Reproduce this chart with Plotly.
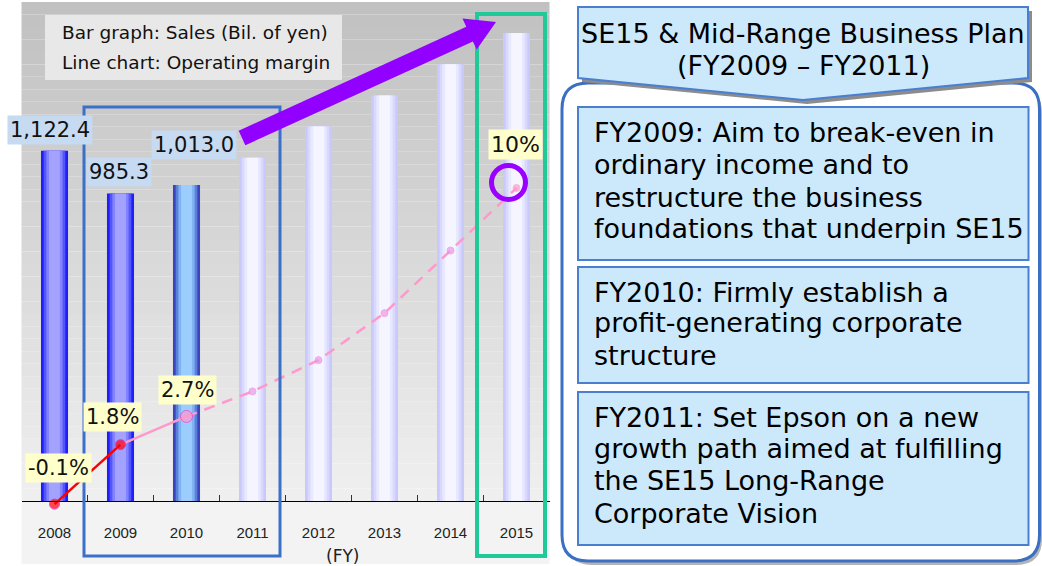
import plotly.graph_objects as go

# ---------------- data ----------------
years = ["2008", "2009", "2010", "2011", "2012", "2013", "2014", "2015"]
sales = [1122.4, 985.3, 1013.0, 1100, 1200, 1300, 1400, 1500]          # bil. of yen
margin = [-0.1, 1.8, 2.7, 3.5, 4.5, 6.0, 8.0, 10.0]                     # operating margin %
bar_kind = ["actual", "actual", "current", "plan", "plan", "plan", "plan", "plan"]
sales_labelled = [0, 1, 2]          # bars that carry a value label
margin_labelled = [0, 1, 2, 7]      # points that carry a value label
legend_lines = ["Bar graph: Sales (Bil. of yen)", "Line chart: Operating margin"]
header_lines = ["SE15 & Mid-Range Business Plan", "(FY2009 \u2013 FY2011)"]
plan_boxes = [
    ["FY2009: Aim to break-even in", "ordinary income and to",
     "restructure the business", "foundations that underpin SE15"],
    ["FY2010: Firmly establish a", "profit-generating corporate", "structure"],
    ["FY2011: Set Epson on a new", "growth path aimed at fulfilling",
     "the SE15 Long-Range", "Corporate Vision"],
]
x_title = "(FY)"

# ---------------- helpers (pixel -> paper) ----------------
W, H = 1042, 566
def PX(x): return x / W
def PY(y): return 1 - y / H
def P(x, y): return f"{PX(x):.5f},{PY(y):.5f}"

FONT = "DejaVu Sans, Verdana, sans-serif"
fig = go.Figure()

# ---------------- bars (layered to imitate cylinder gradient) ----------------
pal = {
    "actual":  ["#1f1ff8", "#5555ff", "#8383ff", "#a3a3ff"],
    "current": ["#3a45bb", "#5a80da", "#80b3f4", "#9bcdff"],
    "plan":    ["#c9c9fb", "#d9d9fd", "#e8e8ff", "#f5f5ff"],
}
bar_w = 0.41
for i, frac in enumerate([1.0, 0.8, 0.6, 0.4]):
    fig.add_trace(go.Bar(
        x=years, y=sales, width=bar_w * frac,
        marker=dict(color=[pal[k][i] for k in bar_kind], line=dict(width=0)),
        yaxis="y", showlegend=False, hoverinfo="skip" if i else "y",
    ))

# ---------------- operating margin line ----------------
fig.add_trace(go.Scatter(x=years[0:2], y=margin[0:2], yaxis="y2", mode="lines",
                         line=dict(color="#ff0000", width=2.5), showlegend=False, hoverinfo="skip"))
fig.add_trace(go.Scatter(x=years[1:3], y=margin[1:3], yaxis="y2", mode="lines",
                         line=dict(color="#ff99cc", width=2.5), showlegend=False, hoverinfo="skip"))
fig.add_trace(go.Scatter(x=years[2:], y=margin[2:], yaxis="y2", mode="lines",
                         line=dict(color="#ff99cc", width=2.5, dash="11px,8px"),
                         showlegend=False, hoverinfo="skip"))
mk_color = ["#ff0000", "#ff0000", "#ff99cc"] + ["#ee99e6"] * 4 + ["#ff99cc"]
mk_line = ["#ff00cc", "#ff00cc", "#ff33cc"] + ["#e58ee0"] * 4 + ["#ff99cc"]
mk_size = [10, 10, 12, 7, 7, 7, 7, 7]
fig.add_trace(go.Scatter(x=years, y=margin, yaxis="y2", mode="markers", cliponaxis=False,
                         marker=dict(color=mk_color, size=mk_size, line=dict(color=mk_line, width=1)),
                         showlegend=False))

# ---------------- shapes ----------------
shapes = []
# chart background gradient
top, axis_y, bottom, left, right = 2, 501, 564, 21.5, 549.5
N = 40
for k in range(N):
    y0 = top + (axis_y - top) * k / N
    y1 = top + (axis_y - top) * (k + 1) / N
    g = int(round(192 + (240 - 192) * (k + 0.5) / N))
    shapes.append(dict(type="rect", xref="paper", yref="paper", layer="below",
                       x0=PX(left), x1=PX(right), y0=PY(y1), y1=PY(y0),
                       fillcolor=f"rgb({g},{g},{g})", line=dict(width=0)))
shapes.append(dict(type="rect", xref="paper", yref="paper", layer="below",
                   x0=PX(left), x1=PX(right), y0=PY(bottom), y1=PY(axis_y),
                   fillcolor="#f3f3f3", line=dict(width=0)))
# legend box
shapes.append(dict(type="rect", xref="paper", yref="paper", layer="below",
                   x0=PX(45), x1=PX(342), y0=PY(80), y1=PY(15),
                   fillcolor="#e8e8e8", line=dict(width=0)))
# highlight boxes
shapes.append(dict(type="rect", xref="paper", yref="paper", layer="above",
                   x0=PX(84), x1=PX(280), y0=PY(556), y1=PY(107),
                   line=dict(color="#3a70c8", width=3)))
shapes.append(dict(type="rect", xref="paper", yref="paper", layer="above",
                   x0=PX(477), x1=PX(545), y0=PY(556), y1=PY(14),
                   line=dict(color="#1fca98", width=4)))
# purple arrow
arrow_pts = [(238.7, 130.7), (466.3, 26.8), (462.5, 18.6), (496, 22),
             (476.7, 49.6), (472.9, 41.4), (245.3, 145.3)]
shapes.append(dict(type="path", xref="paper", yref="paper", layer="above",
                   path="M " + " L ".join(P(x, y) for x, y in arrow_pts) + " Z",
                   fillcolor="#9200ff", line=dict(width=0)))
# purple circle around 2015 target
shapes.append(dict(type="circle", xref="paper", yref="paper", layer="above",
                   x0=PX(491.5), x1=PX(525.5), y0=PY(199.5), y1=PY(165.5),
                   line=dict(color="#9900ff", width=5)))

# right panel: rounded frame with shadow
def rounded(x0, y0, x1, y1, r):
    return ("M " + P(x0 + r, y0) + " L " + P(x1 - r, y0) + " Q " + P(x1, y0) + " " + P(x1, y0 + r) +
            " L " + P(x1, y1 - r) + " Q " + P(x1, y1) + " " + P(x1 - r, y1) +
            " L " + P(x0 + r, y1) + " Q " + P(x0, y1) + " " + P(x0, y1 - r) +
            " L " + P(x0, y0 + r) + " Q " + P(x0, y0) + " " + P(x0 + r, y0) + " Z")
shapes.append(dict(type="path", xref="paper", yref="paper", layer="above",
                   path=rounded(566, 87, 1042, 565, 26), fillcolor="#b4b4b4", line=dict(width=0)))
shapes.append(dict(type="path", xref="paper", yref="paper", layer="above",
                   path=rounded(562, 83, 1039.5, 561, 26), fillcolor="white",
                   line=dict(color="#3a6fc4", width=3)))
# header chevron with shadow
chev = [(578, 7), (1028, 7), (1028, 78), (803, 100), (578, 78)]
shapes.append(dict(type="path", xref="paper", yref="paper", layer="above",
                   path="M " + " L ".join(P(x + 4, y + 4) for x, y in chev) + " Z",
                   fillcolor="#8c8c8c", line=dict(width=0)))
shapes.append(dict(type="path", xref="paper", yref="paper", layer="above",
                   path="M " + " L ".join(P(x, y) for x, y in chev) + " Z",
                   fillcolor="#cce9fc", line=dict(color="#4a7fd0", width=2)))
# plan boxes
box_rects = [(107, 260), (267, 383), (392, 545)]
for y0, y1 in box_rects:
    shapes.append(dict(type="rect", xref="paper", yref="paper", layer="above",
                       x0=PX(578), x1=PX(1028.5), y0=PY(y1), y1=PY(y0),
                       fillcolor="#cce9fc", line=dict(color="#4a7fd0", width=2)))

# ---------------- annotations ----------------
ann = []
# sales value labels (x given as category index)
sales_shift = {0: (-5, 21), 1: (-2, 22), 2: (7, 40)}
for i in sales_labelled:
    dx, dy = sales_shift[i]
    ann.append(dict(x=i, y=sales[i], xref="x", yref="y", text=f"{sales[i]:,.1f}",
                    showarrow=False, xshift=dx, yshift=dy, yanchor="middle", xanchor="center",
                    font=dict(family=FONT, size=21, color="#111"), bgcolor="#c6daf2", borderpad=2))
# margin value labels
margin_shift = {0: (4, 36), 1: (-8, 28), 2: (1, 26), 7: (-1, 43)}
for i in margin_labelled:
    dx, dy = margin_shift[i]
    ann.append(dict(x=i, y=margin[i], xref="x", yref="y2", text=f"{margin[i]:g}%",
                    showarrow=False, xshift=dx, yshift=dy, yanchor="middle", xanchor="center",
                    font=dict(family=FONT, size=22 if i == 7 else 21, color="#111"),
                    bgcolor="#ffffcc", borderpad=2))
# legend text
for txt, y in zip(legend_lines, [33, 62]):
    ann.append(dict(x=PX(60), y=PY(y), xref="paper", yref="paper", text=txt, showarrow=False,
                    xanchor="left", yanchor="middle", font=dict(family=FONT, size=18.5, color="#111")))
# x title
ann.append(dict(x=PX(342), y=PY(556), xref="paper", yref="paper", text=x_title, showarrow=False,
                xanchor="center", yanchor="middle", font=dict(family=FONT, size=17, color="#222")))
# header
for txt, y in zip(header_lines, [34, 65]):
    ann.append(dict(x=PX(803), y=PY(y), xref="paper", yref="paper", text=txt, showarrow=False,
                    xanchor="center", yanchor="middle", font=dict(family=FONT, size=27, color="#000")))
# plan box text
line_y = [[132, 164, 197, 228], [292, 323, 355], [417, 448, 480, 513]]
for lines, ys in zip(plan_boxes, line_y):
    for txt, y in zip(lines, ys):
        ann.append(dict(x=PX(592), y=PY(y), xref="paper", yref="paper", text=txt, showarrow=False,
                        xanchor="left", yanchor="middle", font=dict(family=FONT, size=27, color="#000")))

# ---------------- layout ----------------
ydom = [PY(bottom), PY(top)]
fig.update_layout(
    width=W, height=H, margin=dict(l=0, r=0, t=0, b=0),
    paper_bgcolor="white", plot_bgcolor="rgba(0,0,0,0)",
    barmode="overlay", showlegend=False,
    shapes=shapes, annotations=ann,
    xaxis=dict(type="category", categoryorder="array", categoryarray=years,
               domain=[PX(left), PX(right)], range=[-0.5, 7.5],
               anchor="free", position=PY(axis_y),
               showline=True, linecolor="black", linewidth=1,
               ticks="inside", ticklen=6, tickwidth=1, tickcolor="#333", tickson="boundaries",
               ticklabelstandoff=18, showgrid=False, zeroline=False,
               tickfont=dict(family="Liberation Sans Narrow, Arial Narrow, Liberation Sans, sans-serif",
                             size=15, color="#222")),
    yaxis=dict(domain=ydom, range=[-201.9, 1599.4], visible=False, showgrid=False),
    yaxis2=dict(overlaying="y", anchor="x", range=[-2.013, 15.94], visible=False, showgrid=False),
)

fig.write_html("out.html", config={"displayModeBar": False},
               post_script="document.body.style.margin='0';document.body.style.overflow='hidden';")
